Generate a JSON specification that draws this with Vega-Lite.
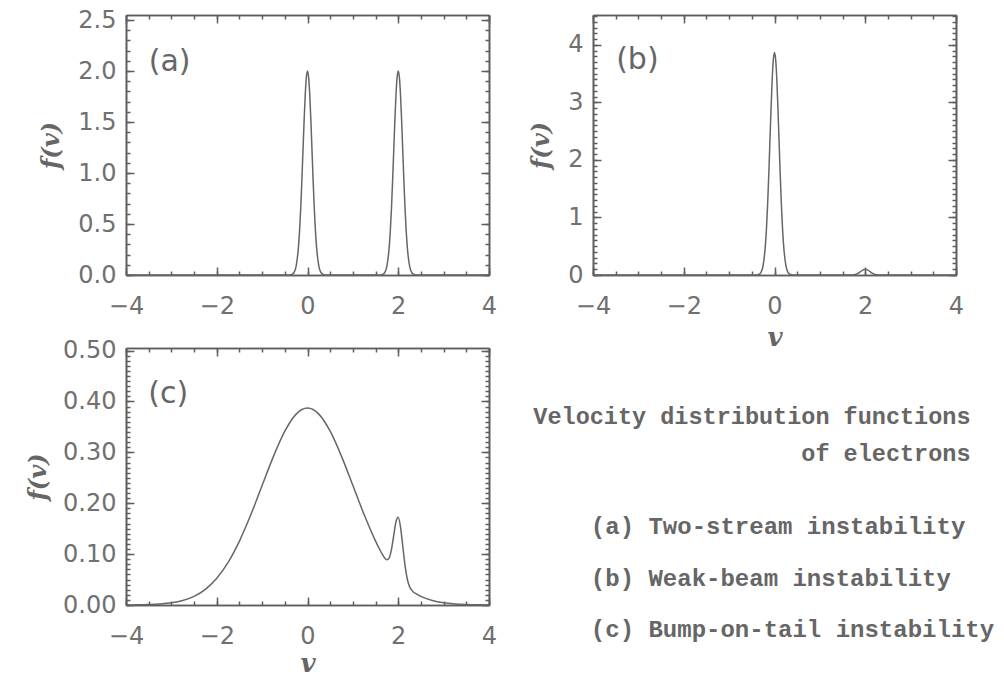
{
  "$schema": "https://vega.github.io/schema/vega-lite/v6.json",
  "padding": {"left": 26, "top": 8, "right": 0, "bottom": 0},
  "bounds": "flush",
  "columns": 2,
  "spacing": {"row": 73, "column": 104},
  "datasets": {
    "a": [
      {"v": -4, "f": 0}, {"v": -0.5, "f": 0}, {"v": -0.4, "f": 0.0007}, {"v": -0.35, "f": 0.004}, {"v": -0.3, "f": 0.022}, {"v": -0.25, "f": 0.088}, {"v": -0.2, "f": 0.271}, {"v": -0.175, "f": 0.433}, {"v": -0.15, "f": 0.649}, {"v": -0.125, "f": 0.916}, {"v": -0.1, "f": 1.213}, {"v": -0.075, "f": 1.51}, {"v": -0.05, "f": 1.765}, {"v": -0.025, "f": 1.938}, {"v": 0, "f": 2.0},
      {"v": 0.025, "f": 1.938}, {"v": 0.05, "f": 1.765}, {"v": 0.075, "f": 1.51}, {"v": 0.1, "f": 1.213}, {"v": 0.125, "f": 0.916}, {"v": 0.15, "f": 0.649}, {"v": 0.175, "f": 0.433}, {"v": 0.2, "f": 0.271}, {"v": 0.25, "f": 0.088}, {"v": 0.3, "f": 0.022}, {"v": 0.35, "f": 0.004}, {"v": 0.4, "f": 0.0007}, {"v": 0.5, "f": 0},
      {"v": 1.5, "f": 0}, {"v": 1.6, "f": 0.0007}, {"v": 1.65, "f": 0.004}, {"v": 1.7, "f": 0.022}, {"v": 1.75, "f": 0.088}, {"v": 1.8, "f": 0.271}, {"v": 1.825, "f": 0.433}, {"v": 1.85, "f": 0.649}, {"v": 1.875, "f": 0.916}, {"v": 1.9, "f": 1.213}, {"v": 1.925, "f": 1.51}, {"v": 1.95, "f": 1.765}, {"v": 1.975, "f": 1.938}, {"v": 2.0, "f": 2.0},
      {"v": 2.025, "f": 1.938}, {"v": 2.05, "f": 1.765}, {"v": 2.075, "f": 1.51}, {"v": 2.1, "f": 1.213}, {"v": 2.125, "f": 0.916}, {"v": 2.15, "f": 0.649}, {"v": 2.175, "f": 0.433}, {"v": 2.2, "f": 0.271}, {"v": 2.25, "f": 0.088}, {"v": 2.3, "f": 0.022}, {"v": 2.35, "f": 0.004}, {"v": 2.4, "f": 0.0007}, {"v": 2.5, "f": 0}, {"v": 4, "f": 0}
    ],
    "b": [
      {"v": -4, "f": 0}, {"v": -0.5, "f": 0}, {"v": -0.4, "f": 0.0013}, {"v": -0.35, "f": 0.0085}, {"v": -0.3, "f": 0.043}, {"v": -0.25, "f": 0.17}, {"v": -0.2, "f": 0.524}, {"v": -0.175, "f": 0.837}, {"v": -0.15, "f": 1.257}, {"v": -0.125, "f": 1.772}, {"v": -0.1, "f": 2.347}, {"v": -0.075, "f": 2.921}, {"v": -0.05, "f": 3.415}, {"v": -0.025, "f": 3.751}, {"v": 0, "f": 3.87},
      {"v": 0.025, "f": 3.751}, {"v": 0.05, "f": 3.415}, {"v": 0.075, "f": 2.921}, {"v": 0.1, "f": 2.347}, {"v": 0.125, "f": 1.772}, {"v": 0.15, "f": 1.257}, {"v": 0.175, "f": 0.837}, {"v": 0.2, "f": 0.524}, {"v": 0.25, "f": 0.17}, {"v": 0.3, "f": 0.043}, {"v": 0.35, "f": 0.0085}, {"v": 0.4, "f": 0.0013}, {"v": 0.5, "f": 0},
      {"v": 1.6, "f": 0}, {"v": 1.7, "f": 0.0011}, {"v": 1.75, "f": 0.0044}, {"v": 1.8, "f": 0.0135}, {"v": 1.85, "f": 0.032}, {"v": 1.9, "f": 0.061}, {"v": 1.95, "f": 0.088}, {"v": 2.0, "f": 0.1}, {"v": 2.05, "f": 0.088}, {"v": 2.1, "f": 0.061}, {"v": 2.15, "f": 0.032}, {"v": 2.2, "f": 0.0135}, {"v": 2.25, "f": 0.0044}, {"v": 2.3, "f": 0.0011}, {"v": 2.4, "f": 0}, {"v": 4, "f": 0}
    ],
    "c": [
      {"v": -4, "f": 0.0001}, {"v": -3.75, "f": 0.0003}, {"v": -3.5, "f": 0.0009}, {"v": -3.25, "f": 0.002}, {"v": -3, "f": 0.0043}, {"v": -2.75, "f": 0.0088}, {"v": -2.5, "f": 0.017}, {"v": -2.25, "f": 0.0308}, {"v": -2, "f": 0.0524}, {"v": -1.75, "f": 0.0837}, {"v": -1.5, "f": 0.1256}, {"v": -1.25, "f": 0.1772}, {"v": -1, "f": 0.2347}, {"v": -0.75, "f": 0.2921}, {"v": -0.5, "f": 0.3415}, {"v": -0.25, "f": 0.3751}, {"v": 0, "f": 0.387},
      {"v": 0.25, "f": 0.3751}, {"v": 0.5, "f": 0.3415}, {"v": 0.75, "f": 0.2921}, {"v": 1, "f": 0.2347}, {"v": 1.25, "f": 0.1772}, {"v": 1.5, "f": 0.1256}, {"v": 1.6, "f": 0.1076}, {"v": 1.65, "f": 0.0995}, {"v": 1.7, "f": 0.0925}, {"v": 1.75, "f": 0.089}, {"v": 1.8, "f": 0.0928}, {"v": 1.85, "f": 0.1089}, {"v": 1.9, "f": 0.1365}, {"v": 1.95, "f": 0.1637}, {"v": 2.0, "f": 0.1724}, {"v": 2.05, "f": 0.1532}, {"v": 2.1, "f": 0.1155}, {"v": 2.15, "f": 0.0774}, {"v": 2.2, "f": 0.0506}, {"v": 2.25, "f": 0.0361}, {"v": 2.3, "f": 0.0288}, {"v": 2.4, "f": 0.0217}, {"v": 2.5, "f": 0.017}, {"v": 2.75, "f": 0.0088}, {"v": 3, "f": 0.0043}, {"v": 3.25, "f": 0.002}, {"v": 3.5, "f": 0.0009}, {"v": 3.75, "f": 0.0003}, {"v": 4, "f": 0.0001}
    ]
  },
  "concat": [
    {
      "width": 363, "height": 260,
      "data": {"name": "a"},
      "layer": [
        {"mark": {"type": "line", "color": "#666666", "strokeWidth": 1.5, "interpolate": "monotone"},
         "encoding": {
           "x": {"field": "v", "type": "quantitative", "scale": {"domain": [-4, 4], "nice": false, "zero": false}, "axis": {"orient": "bottom", "values": [-4, -2, 0, 2, 4], "tickSize": -8, "labelPadding": 27, "title": null}},
           "y": {"field": "f", "type": "quantitative", "scale": {"domain": [0, 2.55], "nice": false, "zero": false}, "axis": {"orient": "left", "values": [0, 0.5, 1, 1.5, 2, 2.5], "format": ".1f", "tickSize": -8, "labelPadding": 18, "title": "f(v)", "titlePadding": 14}}
         }},
        {"mark": {"type": "line", "strokeOpacity": 0},
         "encoding": {
           "x": {"field": "v", "type": "quantitative", "scale": {"domain": [-4, 4], "nice": false, "zero": false}, "axis": {"orient": "top", "values": [-4, -2, 0, 2, 4], "tickSize": -8, "labels": false, "title": null}},
           "y": {"field": "f", "type": "quantitative", "scale": {"domain": [0, 2.55], "nice": false, "zero": false}, "axis": {"orient": "right", "values": [0, 0.5, 1, 1.5, 2, 2.5], "tickSize": -8, "labels": false, "title": null}}
         }},
        {"mark": {"type": "line", "strokeOpacity": 0},
         "encoding": {
           "x": {"field": "v", "type": "quantitative", "scale": {"domain": [-4, 4], "nice": false, "zero": false}, "axis": {"orient": "bottom", "values": [-4, -3.5, -3, -2.5, -2, -1.5, -1, -0.5, 0, 0.5, 1, 1.5, 2, 2.5, 3, 3.5, 4], "tickSize": -4, "labels": false, "title": null}},
           "y": {"field": "f", "type": "quantitative", "scale": {"domain": [0, 2.55], "nice": false, "zero": false}, "axis": {"orient": "left", "values": [0, 0.1, 0.2, 0.3, 0.4, 0.5, 0.6, 0.7, 0.8, 0.9, 1, 1.1, 1.2, 1.3, 1.4, 1.5, 1.6, 1.7, 1.8, 1.9, 2, 2.1, 2.2, 2.3, 2.4, 2.5], "tickSize": -4, "labels": false, "title": null}}
         }},
        {"mark": {"type": "line", "strokeOpacity": 0},
         "encoding": {
           "x": {"field": "v", "type": "quantitative", "scale": {"domain": [-4, 4], "nice": false, "zero": false}, "axis": {"orient": "top", "values": [-4, -3.5, -3, -2.5, -2, -1.5, -1, -0.5, 0, 0.5, 1, 1.5, 2, 2.5, 3, 3.5, 4], "tickSize": -4, "labels": false, "title": null}},
           "y": {"field": "f", "type": "quantitative", "scale": {"domain": [0, 2.55], "nice": false, "zero": false}, "axis": {"orient": "right", "values": [0, 0.1, 0.2, 0.3, 0.4, 0.5, 0.6, 0.7, 0.8, 0.9, 1, 1.1, 1.2, 1.3, 1.4, 1.5, 1.6, 1.7, 1.8, 1.9, 2, 2.1, 2.2, 2.3, 2.4, 2.5], "tickSize": -4, "labels": false, "title": null}}
         }},
        {"data": {"values": [{"v": -3.5, "f": 2.09, "t": "(a)"}]},
         "mark": {"type": "text", "align": "left", "baseline": "middle", "font": "DejaVu Sans", "fontSize": 30, "color": "#666666"},
         "encoding": {
           "x": {"field": "v", "type": "quantitative", "scale": {"domain": [-4, 4], "nice": false, "zero": false}, "axis": null},
           "y": {"field": "f", "type": "quantitative", "scale": {"domain": [0, 2.55], "nice": false, "zero": false}, "axis": null},
           "text": {"field": "t"}
         }}
      ],
      "resolve": {"axis": {"x": "independent", "y": "independent"}}
    },
    {
      "width": 363, "height": 260,
      "data": {"name": "b"},
      "layer": [
        {"mark": {"type": "line", "color": "#666666", "strokeWidth": 1.5, "interpolate": "monotone"},
         "encoding": {
           "x": {"field": "v", "type": "quantitative", "scale": {"domain": [-4, 4], "nice": false, "zero": false}, "axis": {"orient": "bottom", "values": [-4, -2, 0, 2, 4], "tickSize": -8, "labelPadding": 27, "title": "v", "titleFontSize": 26, "titlePadding": 6}},
           "y": {"field": "f", "type": "quantitative", "scale": {"domain": [0, 4.52], "nice": false, "zero": false}, "axis": {"orient": "left", "values": [0, 1, 2, 3, 4], "format": "d", "tickSize": -8, "labelPadding": 18, "title": "f(v)", "titlePadding": 14}}
         }},
        {"mark": {"type": "line", "strokeOpacity": 0},
         "encoding": {
           "x": {"field": "v", "type": "quantitative", "scale": {"domain": [-4, 4], "nice": false, "zero": false}, "axis": {"orient": "top", "values": [-4, -2, 0, 2, 4], "tickSize": -8, "labels": false, "title": null}},
           "y": {"field": "f", "type": "quantitative", "scale": {"domain": [0, 4.52], "nice": false, "zero": false}, "axis": {"orient": "right", "values": [0, 1, 2, 3, 4], "tickSize": -8, "labels": false, "title": null}}
         }},
        {"mark": {"type": "line", "strokeOpacity": 0},
         "encoding": {
           "x": {"field": "v", "type": "quantitative", "scale": {"domain": [-4, 4], "nice": false, "zero": false}, "axis": {"orient": "bottom", "values": [-4, -3.5, -3, -2.5, -2, -1.5, -1, -0.5, 0, 0.5, 1, 1.5, 2, 2.5, 3, 3.5, 4], "tickSize": -4, "labels": false, "title": null}},
           "y": {"field": "f", "type": "quantitative", "scale": {"domain": [0, 4.52], "nice": false, "zero": false}, "axis": {"orient": "left", "values": [0, 0.1, 0.2, 0.3, 0.4, 0.5, 0.6, 0.7, 0.8, 0.9, 1, 1.1, 1.2, 1.3, 1.4, 1.5, 1.6, 1.7, 1.8, 1.9, 2, 2.1, 2.2, 2.3, 2.4, 2.5, 2.6, 2.7, 2.8, 2.9, 3, 3.1, 3.2, 3.3, 3.4, 3.5, 3.6, 3.7, 3.8, 3.9, 4, 4.1, 4.2, 4.3, 4.4, 4.5], "tickSize": -4, "labels": false, "title": null}}
         }},
        {"mark": {"type": "line", "strokeOpacity": 0},
         "encoding": {
           "x": {"field": "v", "type": "quantitative", "scale": {"domain": [-4, 4], "nice": false, "zero": false}, "axis": {"orient": "top", "values": [-4, -3.5, -3, -2.5, -2, -1.5, -1, -0.5, 0, 0.5, 1, 1.5, 2, 2.5, 3, 3.5, 4], "tickSize": -4, "labels": false, "title": null}},
           "y": {"field": "f", "type": "quantitative", "scale": {"domain": [0, 4.52], "nice": false, "zero": false}, "axis": {"orient": "right", "values": [0, 0.1, 0.2, 0.3, 0.4, 0.5, 0.6, 0.7, 0.8, 0.9, 1, 1.1, 1.2, 1.3, 1.4, 1.5, 1.6, 1.7, 1.8, 1.9, 2, 2.1, 2.2, 2.3, 2.4, 2.5, 2.6, 2.7, 2.8, 2.9, 3, 3.1, 3.2, 3.3, 3.4, 3.5, 3.6, 3.7, 3.8, 3.9, 4, 4.1, 4.2, 4.3, 4.4, 4.5], "tickSize": -4, "labels": false, "title": null}}
         }},
        {"data": {"values": [{"v": -3.49, "f": 3.74, "t": "(b)"}]},
         "mark": {"type": "text", "align": "left", "baseline": "middle", "font": "DejaVu Sans", "fontSize": 30, "color": "#666666"},
         "encoding": {
           "x": {"field": "v", "type": "quantitative", "scale": {"domain": [-4, 4], "nice": false, "zero": false}, "axis": null},
           "y": {"field": "f", "type": "quantitative", "scale": {"domain": [0, 4.52], "nice": false, "zero": false}, "axis": null},
           "text": {"field": "t"}
         }}
      ],
      "resolve": {"axis": {"x": "independent", "y": "independent"}}
    },
    {
      "width": 363, "height": 257,
      "data": {"name": "c"},
      "layer": [
        {"mark": {"type": "line", "color": "#666666", "strokeWidth": 1.5, "interpolate": "monotone"},
         "encoding": {
           "x": {"field": "v", "type": "quantitative", "scale": {"domain": [-4, 4], "nice": false, "zero": false}, "axis": {"orient": "bottom", "values": [-4, -2, 0, 2, 4], "tickSize": -8, "labelPadding": 27, "title": "v", "titleFontSize": 26, "titlePadding": 2}},
           "y": {"field": "f", "type": "quantitative", "scale": {"domain": [0, 0.505], "nice": false, "zero": false}, "axis": {"orient": "left", "values": [0, 0.1, 0.2, 0.3, 0.4, 0.5], "format": ".2f", "tickSize": -8, "labelPadding": 18, "title": "f(v)", "titlePadding": 12}}
         }},
        {"mark": {"type": "line", "strokeOpacity": 0},
         "encoding": {
           "x": {"field": "v", "type": "quantitative", "scale": {"domain": [-4, 4], "nice": false, "zero": false}, "axis": {"orient": "top", "values": [-4, -2, 0, 2, 4], "tickSize": -8, "labels": false, "title": null}},
           "y": {"field": "f", "type": "quantitative", "scale": {"domain": [0, 0.505], "nice": false, "zero": false}, "axis": {"orient": "right", "values": [0, 0.1, 0.2, 0.3, 0.4, 0.5], "tickSize": -8, "labels": false, "title": null}}
         }},
        {"mark": {"type": "line", "strokeOpacity": 0},
         "encoding": {
           "x": {"field": "v", "type": "quantitative", "scale": {"domain": [-4, 4], "nice": false, "zero": false}, "axis": {"orient": "bottom", "values": [-4, -3.5, -3, -2.5, -2, -1.5, -1, -0.5, 0, 0.5, 1, 1.5, 2, 2.5, 3, 3.5, 4], "tickSize": -4, "labels": false, "title": null}},
           "y": {"field": "f", "type": "quantitative", "scale": {"domain": [0, 0.505], "nice": false, "zero": false}, "axis": {"orient": "left", "values": [0, 0.01, 0.02, 0.03, 0.04, 0.05, 0.06, 0.07, 0.08, 0.09, 0.1, 0.11, 0.12, 0.13, 0.14, 0.15, 0.16, 0.17, 0.18, 0.19, 0.2, 0.21, 0.22, 0.23, 0.24, 0.25, 0.26, 0.27, 0.28, 0.29, 0.3, 0.31, 0.32, 0.33, 0.34, 0.35, 0.36, 0.37, 0.38, 0.39, 0.4, 0.41, 0.42, 0.43, 0.44, 0.45, 0.46, 0.47, 0.48, 0.49, 0.5], "tickSize": -4, "labels": false, "title": null}}
         }},
        {"mark": {"type": "line", "strokeOpacity": 0},
         "encoding": {
           "x": {"field": "v", "type": "quantitative", "scale": {"domain": [-4, 4], "nice": false, "zero": false}, "axis": {"orient": "top", "values": [-4, -3.5, -3, -2.5, -2, -1.5, -1, -0.5, 0, 0.5, 1, 1.5, 2, 2.5, 3, 3.5, 4], "tickSize": -4, "labels": false, "title": null}},
           "y": {"field": "f", "type": "quantitative", "scale": {"domain": [0, 0.505], "nice": false, "zero": false}, "axis": {"orient": "right", "values": [0, 0.01, 0.02, 0.03, 0.04, 0.05, 0.06, 0.07, 0.08, 0.09, 0.1, 0.11, 0.12, 0.13, 0.14, 0.15, 0.16, 0.17, 0.18, 0.19, 0.2, 0.21, 0.22, 0.23, 0.24, 0.25, 0.26, 0.27, 0.28, 0.29, 0.3, 0.31, 0.32, 0.33, 0.34, 0.35, 0.36, 0.37, 0.38, 0.39, 0.4, 0.41, 0.42, 0.43, 0.44, 0.45, 0.46, 0.47, 0.48, 0.49, 0.5], "tickSize": -4, "labels": false, "title": null}}
         }},
        {"data": {"values": [{"v": -3.51, "f": 0.414, "t": "(c)"}]},
         "mark": {"type": "text", "align": "left", "baseline": "middle", "font": "DejaVu Sans", "fontSize": 30, "color": "#666666"},
         "encoding": {
           "x": {"field": "v", "type": "quantitative", "scale": {"domain": [-4, 4], "nice": false, "zero": false}, "axis": null},
           "y": {"field": "f", "type": "quantitative", "scale": {"domain": [0, 0.505], "nice": false, "zero": false}, "axis": null},
           "text": {"field": "t"}
         }}
      ],
      "resolve": {"axis": {"x": "independent", "y": "independent"}}
    },
    {
      "width": 363, "height": 257,
      "layer": [
        {"data": {"values": [
            {"x": 1.04, "y": 0.704, "t": "Velocity distribution functions"},
            {"x": 1.04, "y": 0.56, "t": "of electrons"}
          ]},
         "mark": {"type": "text", "align": "right", "baseline": "alphabetic", "font": "Liberation Mono", "fontSize": 23.5, "fontWeight": "bold", "color": "#666666"},
         "encoding": {
           "x": {"field": "x", "type": "quantitative", "scale": {"domain": [0, 1], "nice": false, "zero": false}, "axis": null},
           "y": {"field": "y", "type": "quantitative", "scale": {"domain": [0, 1], "nice": false, "zero": false}, "axis": null},
           "text": {"field": "t"}
         }},
        {"data": {"values": [
            {"x": -0.006, "y": 0.276, "t": "(a) Two-stream instability"},
            {"x": -0.006, "y": 0.074, "t": "(b) Weak-beam instability"},
            {"x": -0.006, "y": -0.125, "t": "(c) Bump-on-tail instability"}
          ]},
         "mark": {"type": "text", "align": "left", "baseline": "alphabetic", "font": "Liberation Mono", "fontSize": 24, "fontWeight": "bold", "color": "#666666"},
         "encoding": {
           "x": {"field": "x", "type": "quantitative", "scale": {"domain": [0, 1], "nice": false, "zero": false}, "axis": null},
           "y": {"field": "y", "type": "quantitative", "scale": {"domain": [0, 1], "nice": false, "zero": false}, "axis": null},
           "text": {"field": "t"}
         }}
      ]
    }
  ],
  "config": {
    "view": {"stroke": null},
    "axis": {
      "grid": false,
      "domainColor": "#5e5e5e", "domainWidth": 1.6,
      "tickColor": "#5e5e5e", "tickWidth": 1.5,
      "labelColor": "#707070", "labelFont": "DejaVu Sans", "labelFontSize": 24,
      "labelFlush": false, "labelOverlap": false, "labelBound": false,
      "titleColor": "#666666", "titleFont": "DejaVu Serif", "titleFontStyle": "italic", "titleFontWeight": "bold", "titleFontSize": 24
    }
  }
}
